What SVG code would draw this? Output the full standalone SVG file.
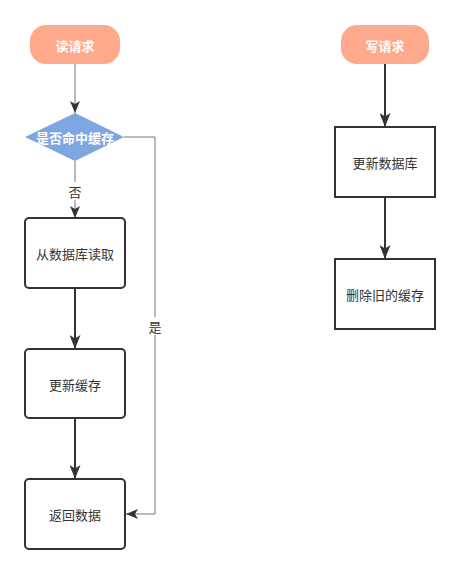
<svg xmlns="http://www.w3.org/2000/svg" width="460" height="574" viewBox="0 0 460 574">
<style>
.t{font-family:"Noto Sans CJK SC","Liberation Sans",sans-serif;font-size:13px;fill:#333;text-anchor:middle;dominant-baseline:central}
.w{fill:#fff}
.term{fill:#FFA98C;stroke:none}
.box{fill:#fff;stroke:#333;stroke-width:2}
.thin{fill:none;stroke:#777;stroke-width:1}
.thick{fill:none;stroke:#333;stroke-width:2}
</style>
<defs>
<marker id="a" viewBox="0 0 12 10" refX="12" refY="5" markerWidth="12" markerHeight="10" markerUnits="userSpaceOnUse" orient="auto">
<path d="M0,0 L12,5 L0,10 L3,5 Z" fill="#333"/>
</marker>
<marker id="b" viewBox="0 0 14 11" refX="14" refY="5.5" markerWidth="14" markerHeight="11" markerUnits="userSpaceOnUse" orient="auto">
<path d="M0,0 L14,5.5 L0,11 L3.5,5.5 Z" fill="#333"/>
</marker>
</defs>
<rect width="460" height="574" fill="#fff"/>
<g id="connectors">
<path class="thin" d="M75,64 V113" marker-end="url(#a)"/>
<path class="thin" d="M75,161 V218" marker-end="url(#a)"/>
<path class="thin" d="M124,137 H155 V514 H126" marker-end="url(#a)"/>
<path class="thick" d="M75,288 V349" marker-end="url(#b)"/>
<path class="thick" d="M75,418 V479" marker-end="url(#b)"/>
<path class="thick" d="M385,64 V127" marker-end="url(#b)"/>
<path class="thick" d="M385,197 V259" marker-end="url(#b)"/>
<rect x="67" y="182" width="16" height="18" fill="#fff"/>
<text class="t" x="75" y="191">否</text>
<rect x="147" y="317" width="16" height="18" fill="#fff"/>
<text class="t" x="155" y="326">是</text>
</g>
<g id="read">
<rect class="term" x="30" y="25" width="90" height="39" rx="16"/>
<text class="t w" x="75" y="45" font-weight="bold">读请求</text>
</g>
<g id="hit">
<path d="M75,113 L124,137 L75,161 L25,137 Z" fill="#7EA6E0"/>
<text class="t w" x="75" y="137" font-weight="bold">是否命中缓存</text>
</g>
<g id="readdb">
<rect class="box" x="25" y="218" width="100" height="70" rx="4"/>
<text class="t" x="75" y="253">从数据库读取</text>
</g>
<g id="updcache">
<rect class="box" x="25" y="349" width="100" height="69" rx="4"/>
<text class="t" x="75" y="384">更新缓存</text>
</g>
<g id="ret">
<rect class="box" x="25" y="479" width="100" height="70" rx="4"/>
<text class="t" x="75" y="514">返回数据</text>
</g>
<g id="write">
<rect class="term" x="341" y="25" width="88" height="39" rx="16"/>
<text class="t w" x="385" y="45" font-weight="bold">写请求</text>
</g>
<g id="upddb">
<rect class="box" x="335" y="127" width="100" height="70"/>
<text class="t" x="385" y="162">更新数据库</text>
</g>
<g id="del">
<rect class="box" x="335" y="259" width="100" height="70"/>
<text class="t" x="385" y="294">删除旧的缓存</text>
</g>
</svg>
